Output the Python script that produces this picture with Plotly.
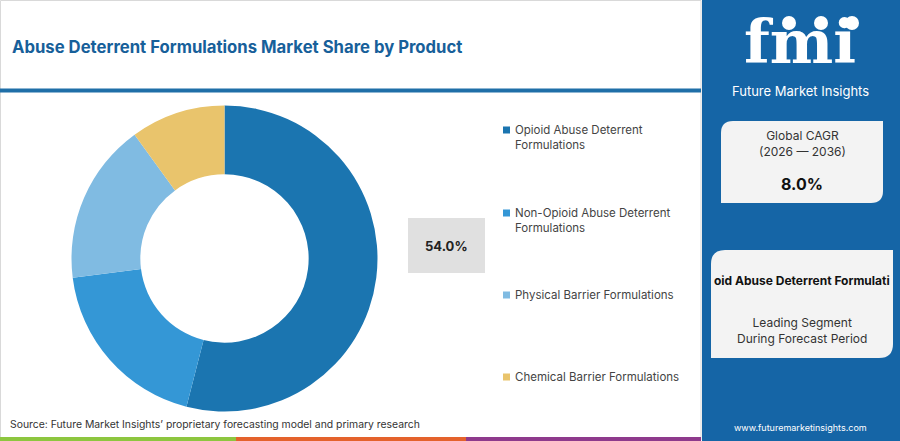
import plotly.graph_objects as go

# share by product (%)
products = [
    "Opioid Abuse Deterrent Formulations",
    "Non-Opioid Abuse Deterrent Formulations",
    "Physical Barrier Formulations",
    "Chemical Barrier Formulations",
]
legend_labels = [
    "Opioid Abuse Deterrent<br>Formulations",
    "Non-Opioid Abuse Deterrent<br>Formulations",
    "Physical Barrier Formulations",
    "Chemical Barrier Formulations",
]
shares = [54.0, 19.0, 17.0, 10.0]
colors = ["#1b75b0", "#3497d6", "#80bbe2", "#e9c46c"]

title = "Abuse Deterrent Formulations Market Share by Product"
source = "Source: Future Market Insights\u2019 proprietary forecasting model and primary research"
cagr_label = "Global CAGR<br>(2026 \u2014 2036)"
cagr_value = "8.0%"
lead_segment = "oid Abuse Deterrent Formulati"
lead_caption = "Leading Segment<br>During Forecast Period"

W, H = 900, 441
FONT = "Inter, Open Sans, sans-serif"
PANEL = "#1565a6"


def px(x):
    return x / W


def py(y):
    # pixel from top -> paper
    return 1 - y / H


fig = go.Figure()

fig.add_trace(go.Pie(
    labels=products,
    values=shares,
    hole=0.55,
    sort=False,
    direction="clockwise",
    rotation=0,
    marker=dict(colors=colors, line=dict(width=0)),
    textinfo="none",
    hoverinfo="label+percent",
    showlegend=False,
    domain=dict(x=[px(71.5), px(377.5)], y=[py(411.5), py(105.5)]),
))

shapes = []
annotations = []

# card border
shapes.append(dict(type="rect", xref="paper", yref="paper",
                   x0=px(0.5), x1=px(701), y0=py(440), y1=py(0.5),
                   line=dict(color="#d9d9d9", width=1), fillcolor="white", layer="below"))
# title rule
shapes.append(dict(type="rect", xref="paper", yref="paper",
                   x0=0, x1=px(701), y0=py(92.5), y1=py(88.5),
                   line=dict(width=0), fillcolor="#1f6fa8"))
# bottom colour strip
for x0, x1, c in [(0, 236, "#8dc63f"), (236, 466, "#e4622c"), (466, 701, "#8e3a8c")]:
    shapes.append(dict(type="rect", xref="paper", yref="paper",
                       x0=px(x0), x1=px(x1), y0=0, y1=py(437),
                       line=dict(width=0), fillcolor=c))

# right panel
shapes.append(dict(type="rect", xref="paper", yref="paper",
                   x0=px(702), x1=1, y0=0, y1=1,
                   line=dict(width=0), fillcolor=PANEL))


def leaf(x0, y0, x1, y1, r):
    # rounded top-left and bottom-right corners, pixel coords from top
    pts = [
        f"M {px(x0 + r)},{py(y0)}",
        f"L {px(x1)},{py(y0)}",
        f"L {px(x1)},{py(y1 - r)}",
        f"Q {px(x1)},{py(y1)} {px(x1 - r)},{py(y1)}",
        f"L {px(x0)},{py(y1)}",
        f"L {px(x0)},{py(y0 + r)}",
        f"Q {px(x0)},{py(y0)} {px(x0 + r)},{py(y0)}",
        "Z",
    ]
    return " ".join(pts)


shapes.append(dict(type="path", xref="paper", yref="paper",
                   path=leaf(721, 121, 883, 203, 12),
                   fillcolor="#f3f3f3", line=dict(width=0)))
shapes.append(dict(type="path", xref="paper", yref="paper",
                   path=leaf(711, 250, 893, 358, 14),
                   fillcolor="#f3f3f3", line=dict(width=0)))

# small globe dots of the logo
for cx in [789, 821, 852]:
    shapes.append(dict(type="circle", xref="paper", yref="paper",
                       x0=px(cx - 7), x1=px(cx + 7), y0=py(30), y1=py(16),
                       fillcolor="white", line=dict(width=0)))

# 54% value box
shapes.append(dict(type="rect", xref="paper", yref="paper",
                   x0=px(408), x1=px(485), y0=py(273), y1=py(218),
                   fillcolor="#e0e0e0", line=dict(width=0)))

annotations.append(dict(x=px(10), y=py(47), xref="paper", yref="paper",
                        text=f"<b>{title}</b>", showarrow=False,
                        xanchor="left", yanchor="middle",
                        font=dict(family=FONT, size=16.7, color="#17609a")))
annotations.append(dict(x=px(8), y=py(424), xref="paper", yref="paper",
                        text=source, showarrow=False,
                        xanchor="left", yanchor="middle",
                        font=dict(family=FONT, size=10.4, color="#333333")))
annotations.append(dict(x=px(446.5), y=py(245.5), xref="paper", yref="paper",
                        text=f"<b>{shares[0]:.1f}%</b>", showarrow=False,
                        xanchor="center", yanchor="middle",
                        font=dict(family=FONT, size=13, color="#222222")))

# legend built from the series
legend_y = [130, 213, 295, 377]
for lab, c, ly in zip(legend_labels, colors, legend_y):
    shapes.append(dict(type="rect", xref="paper", yref="paper",
                       x0=px(503), x1=px(510), y0=py(ly + 3.5), y1=py(ly - 3.5),
                       fillcolor=c, line=dict(width=0)))
    annotations.append(dict(x=px(513), y=py(ly - 9), xref="paper", yref="paper",
                            text=lab, showarrow=False, align="left",
                            xanchor="left", yanchor="top",
                            font=dict(family=FONT, size=11.5, color="#444444")))

# right panel text
panel_text = [
    dict(x=px(800), y=py(42), text="<b>fmi</b>",
         font=dict(family="DejaVu Serif", size=60, color="white")),
    dict(x=px(800), y=py(91), text="Future Market Insights",
         font=dict(family=FONT, size=13, color="white")),
    dict(x=px(802), y=py(143), text=cagr_label,
         font=dict(family=FONT, size=12, color="#333333")),
    dict(x=px(802), y=py(184), text=f"<b>{cagr_value}</b>",
         font=dict(family=FONT, size=16, color="#111111")),
    dict(x=px(802), y=py(280), text=f"<b>{lead_segment}</b>",
         font=dict(family=FONT, size=12, color="#111111")),
    dict(x=px(802), y=py(330), text=lead_caption,
         font=dict(family=FONT, size=12, color="#333333")),
    dict(x=px(800), y=py(427), text="www.futuremarketinsights.com",
         font=dict(family=FONT, size=9, color="white")),
]
for a in panel_text:
    a.update(xref="paper", yref="paper", showarrow=False,
             xanchor="center", yanchor="middle")
annotations += panel_text

fig.update_layout(
    width=W, height=H,
    margin=dict(l=0, r=0, t=0, b=0),
    paper_bgcolor="white",
    plot_bgcolor="white",
    shapes=shapes,
    annotations=annotations,
)

fig.write_html("out.html", config={"displayModeBar": False},
               post_script="document.body.style.margin='0';")
